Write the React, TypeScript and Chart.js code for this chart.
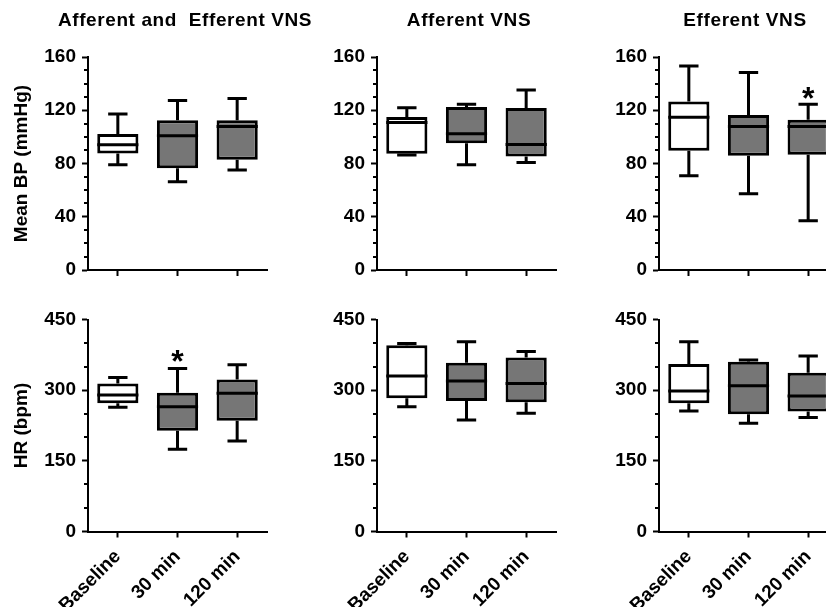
import React, { useEffect, useRef } from 'react';
import { Chart, registerables } from 'chart.js';

Chart.register(...registerables);
Chart.defaults.font.family = '"Liberation Sans", Arial, sans-serif';

// ---------- data ----------
const categories = ['Baseline', '30 min', '120 min'];
const panelTitles = ['Afferent and  Efferent VNS', 'Afferent VNS', 'Efferent VNS'];
const bpAxisTitle = 'Mean BP (mmHg)';
const hrAxisTitle = 'HR (bpm)';

const bpMax = 160;
const bpMajorStep = 40;
const bpMinorStep = 10;
const hrMax = 450;
const hrMajorStep = 150;
const hrMinorStep = 50;

// Mean BP, afferent + efferent VNS
const bpBothMin = [79, 66.2, 75.2];
const bpBothQ1 = [87.5, 76.5, 82.8];
const bpBothMedian = [94, 100.8, 107.8];
const bpBothQ3 = [102.1, 112.4, 112.4];
const bpBothMax = [117.1, 127.4, 128.9];
const bpBothStar = [null, null, null];

// Mean BP, afferent VNS
const bpAffMin = [86.3, 79, 80.8];
const bpAffQ1 = [87.3, 95.3, 85.3];
const bpAffMedian = [110.8, 102.3, 94.3];
const bpAffQ3 = [114.9, 122.4, 121.6];
const bpAffMax = [121.9, 124.6, 135.2];
const bpAffStar = [null, null, null];

// Mean BP, efferent VNS
const bpEffMin = [70.8, 57.3, 37];
const bpEffQ1 = [89.5, 85.8, 86.5];
const bpEffMedian = [114.8, 107.8, 107.8];
const bpEffQ3 = [126.5, 116.5, 112.8];
const bpEffMax = [153.3, 148.3, 124.5];
const bpEffStar = [null, null, 135];

// HR, afferent + efferent VNS
const hrBothMin = [263.7, 174.5, 192.2];
const hrBothQ1 = [272, 214, 235.2];
const hrBothMedian = [289.7, 264.9, 293.2];
const hrBothQ3 = [314.4, 294.6, 322.8];
const hrBothMax = [327, 346, 353.9];
const hrBothStar = [null, 378, null];

// HR, afferent VNS
const hrAffMin = [264.9, 236.8, 250.8];
const hrAffQ1 = [282.6, 277, 274.1];
const hrAffMedian = [329.9, 319.4, 314.4];
const hrAffQ3 = [395.6, 358.2, 369.5];
const hrAffMax = [399.1, 402.7, 382.2];
const hrAffStar = [null, null, null];

// HR, efferent VNS
const hrEffMin = [255.8, 229.7, 241.8];
const hrEffQ1 = [272, 248.8, 254.5];
const hrEffMedian = [298.1, 309.6, 287.7];
const hrEffQ3 = [355.4, 360.4, 337.2];
const hrEffMax = [402.7, 364, 372.5];
const hrEffStar = [null, null, null];

// ---------- style / layout ----------
const boxFills = ['#ffffff', '#767676', '#767676'];
const BLACK = '#000000';
const FONT_BOLD = '"Liberation Sans", Arial, sans-serif';

const COL_AXIS_X = [88, 377, 659];
const Y_AXIS_W = 88;
const PLOT_W = 179;
const RIGHT_PAD = 60;
const CANVAS_W = Y_AXIS_W + PLOT_W + RIGHT_PAD;
const TITLE_SHIFT = [7.5, 2.5, -3.5];

const ROWS = [
  { top: 0, height: 290, plotTop: 57, plotBottom: 270, showX: false, titles: true },
  { top: 290, height: 360, plotTop: 29.5, plotBottom: 241.5, showX: true, titles: false },
];

type Stats = {
  min: number[]; q1: number[]; median: number[]; q3: number[]; max: number[]; star: (number | null)[];
};

const bpStats: Stats[] = [
  { min: bpBothMin, q1: bpBothQ1, median: bpBothMedian, q3: bpBothQ3, max: bpBothMax, star: bpBothStar },
  { min: bpAffMin, q1: bpAffQ1, median: bpAffMedian, q3: bpAffQ3, max: bpAffMax, star: bpAffStar },
  { min: bpEffMin, q1: bpEffQ1, median: bpEffMedian, q3: bpEffQ3, max: bpEffMax, star: bpEffStar },
];
const hrStats: Stats[] = [
  { min: hrBothMin, q1: hrBothQ1, median: hrBothMedian, q3: hrBothQ3, max: hrBothMax, star: hrBothStar },
  { min: hrAffMin, q1: hrAffQ1, median: hrAffMedian, q3: hrAffQ3, max: hrAffMax, star: hrAffStar },
  { min: hrEffMin, q1: hrEffQ1, median: hrEffMedian, q3: hrEffQ3, max: hrEffMax, star: hrEffStar },
];

type PanelProps = {
  stats: Stats;
  col: number;
  row: number;
  yMax: number;
  majorStep: number;
  minorStep: number;
  axisTitle: string;
};

function makeBoxPlugin(stats: Stats, title: string | null, titleShift: number, minorStep: number, majorStep: number) {
  return {
    id: 'boxWhiskers',
    afterDatasetsDraw(chart: any) {
      const ctx = chart.ctx;
      const y = chart.scales.y;
      const meta = chart.getDatasetMeta(0);
      ctx.save();
      ctx.strokeStyle = BLACK;
      ctx.lineWidth = 3;
      ctx.lineCap = 'butt';
      meta.data.forEach((el: any, i: number) => {
        const { x, width } = el.getProps(['x', 'width'], true);
        const yMin = y.getPixelForValue(stats.min[i]);
        const yQ1 = y.getPixelForValue(stats.q1[i]);
        const yMed = y.getPixelForValue(stats.median[i]);
        const yQ3 = y.getPixelForValue(stats.q3[i]);
        const yMax = y.getPixelForValue(stats.max[i]);
        const capW = width * 0.47;
        ctx.beginPath();
        // upper whisker
        ctx.moveTo(x, yQ3);
        ctx.lineTo(x, yMax);
        ctx.moveTo(x - capW / 2, yMax);
        ctx.lineTo(x + capW / 2, yMax);
        // lower whisker
        ctx.moveTo(x, yQ1);
        ctx.lineTo(x, yMin);
        ctx.moveTo(x - capW / 2, yMin);
        ctx.lineTo(x + capW / 2, yMin);
        // median
        ctx.moveTo(x - width / 2, yMed);
        ctx.lineTo(x + width / 2, yMed);
        ctx.stroke();
        const s = stats.star[i];
        if (s !== null && s !== undefined) {
          const size = 32;
          ctx.fillStyle = BLACK;
          ctx.font = `bold ${size}px ${FONT_BOLD}`;
          ctx.textAlign = 'center';
          ctx.textBaseline = 'alphabetic';
          ctx.fillText('*', x, y.getPixelForValue(s) + size * 0.58);
        }
      });
      ctx.restore();
    },
    afterDraw(chart: any) {
      const ctx = chart.ctx;
      const y = chart.scales.y;
      const area = chart.chartArea;
      ctx.save();
      // minor ticks
      ctx.strokeStyle = BLACK;
      ctx.lineWidth = 2;
      ctx.beginPath();
      for (let v = 0; v <= y.max + 1e-9; v += minorStep) {
        if (Math.abs(v % majorStep) < 1e-9) continue;
        const py = Math.round(y.getPixelForValue(v));
        ctx.moveTo(area.left - 4, py);
        ctx.lineTo(area.left, py);
      }
      ctx.stroke();
      // panel title
      if (title) {
        ctx.fillStyle = BLACK;
        ctx.font = `bold 19px ${FONT_BOLD}`;
        try { (ctx as any).letterSpacing = '0.6px'; } catch (e) { /* ignore */ }
        ctx.textAlign = 'center';
        ctx.textBaseline = 'alphabetic';
        ctx.fillText(title, (area.left + area.right) / 2 + titleShift, 26);
      }
      ctx.restore();
    },
  };
}

function Panel({ stats, col, row, yMax, majorStep, minorStep, axisTitle }: PanelProps) {
  const ref = useRef<HTMLCanvasElement | null>(null);
  const r = ROWS[row];
  useEffect(() => {
    if (!ref.current) return;
    const xAxisH = r.height - r.plotBottom;
    const chart = new Chart(ref.current, {
      type: 'bar',
      data: {
        labels: categories,
        datasets: [
          {
            data: stats.q1.map((v, i) => [v, stats.q3[i]]) as any,
            backgroundColor: boxFills,
            borderColor: BLACK,
            borderWidth: 3,
            borderSkipped: false,
            barPercentage: 0.69,
            categoryPercentage: 1,
          },
        ],
      },
      options: {
        animation: false,
        responsive: false,
        maintainAspectRatio: false,
        devicePixelRatio: 1,
        events: [],
        layout: { padding: { top: r.plotTop, right: RIGHT_PAD, left: 0, bottom: 0 } },
        plugins: { legend: { display: false }, tooltip: { enabled: false }, title: { display: false } },
        scales: {
          x: {
            type: 'category',
            offset: true,
            grid: {
              display: true,
              drawOnChartArea: false,
              drawTicks: true,
              tickLength: 6,
              tickWidth: 2,
              tickColor: BLACK,
              offset: false,
            },
            border: { display: true, color: BLACK, width: 2 },
            ticks: {
              display: r.showX,
              color: BLACK,
              font: { size: 19, weight: 'bold', family: FONT_BOLD },
              maxRotation: 45,
              minRotation: 45,
              autoSkip: false,
              padding: 8,
            },
            afterFit: (s: any) => {
              s.height = xAxisH;
              s.paddingLeft = 0;
              s.paddingRight = 0;
            },
          },
          y: {
            type: 'linear',
            min: 0,
            max: yMax,
            ticks: {
              stepSize: majorStep,
              color: BLACK,
              font: { size: 19, weight: 'bold', family: FONT_BOLD },
              padding: 6,
            },
            grid: {
              display: true,
              drawOnChartArea: false,
              drawTicks: true,
              tickLength: 6,
              tickWidth: 2,
              tickColor: BLACK,
            },
            border: { display: true, color: BLACK, width: 2 },
            title: {
              display: col === 0,
              text: axisTitle,
              color: BLACK,
              font: { size: 19, weight: 'bold', family: FONT_BOLD },
              padding: { top: 10.5, bottom: 0 },
            },
            afterFit: (s: any) => {
              s.width = Y_AXIS_W;
              s.paddingTop = 0;
              s.paddingBottom = 0;
            },
          },
        },
      } as any,
      plugins: [makeBoxPlugin(stats, r.titles ? panelTitles[col] : null, TITLE_SHIFT[col], minorStep, majorStep)],
    });
    return () => chart.destroy();
  }, []);
  return (
    <canvas
      ref={ref}
      width={CANVAS_W}
      height={r.height}
      style={{ position: 'absolute', left: COL_AXIS_X[col] - Y_AXIS_W, top: r.top, width: CANVAS_W, height: r.height }}
    />
  );
}

export default function App() {
  return (
    <div
      style={{
        position: 'fixed',
        left: 0,
        top: 0,
        width: 826,
        height: 607,
        overflow: 'hidden',
        background: '#ffffff',
      }}
    >
      {[0, 1, 2].map((c) => (
        <Panel key={'bp' + c} stats={bpStats[c]} col={c} row={0} yMax={bpMax} majorStep={bpMajorStep} minorStep={bpMinorStep} axisTitle={bpAxisTitle} />
      ))}
      {[0, 1, 2].map((c) => (
        <Panel key={'hr' + c} stats={hrStats[c]} col={c} row={1} yMax={hrMax} majorStep={hrMajorStep} minorStep={hrMinorStep} axisTitle={hrAxisTitle} />
      ))}
    </div>
  );
}
